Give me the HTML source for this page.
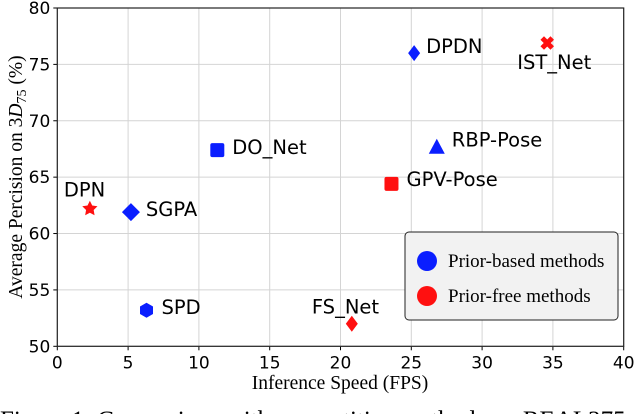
<!DOCTYPE html>
<html><head><meta charset="utf-8"><style>
html,body{margin:0;padding:0;background:#fff;width:640px;height:414px;overflow:hidden}
svg{display:block}
.tk{font-family:"DejaVu Sans",sans-serif;font-size:17px;fill:#000}
.lb{font-family:"DejaVu Sans",sans-serif;font-size:19.5px;fill:#000}
.sr{font-family:"Liberation Serif",serif;fill:#000}
</style></head><body>
<svg id="chart" width="640" height="414"></svg>
<script>
const names=["DPN","SGPA","SPD","DO_Net","DPDN","IST_Net","RBP-Pose","GPV-Pose","FS_Net"];
const speeds=[2.3,5.2,6.3,11.3,25.2,34.6,26.8,23.6,20.8];
const aps=[62.2,61.9,53.2,67.4,76.0,76.9,67.7,64.4,52.0];
const groups=["free","based","based","based","based","free","based","free","free"];
const markers=["star","diamond","hex","square","thin","x","tri","square","thin"];
const xTicks=[0,5,10,15,20,25,30,35,40];
const yTicks=[50,55,60,65,70,75,80];
const labelOff=[[-26,-18],[15,-2],[15,-2],[15,-2],[12,-6],[-30,20],[15,-6],[15,-4],[-40,-16]];
const X0=57.3,X1=623.7,Y0=346.3,Y1=8;
const sx=v=>X0+(v-0)/40*(X1-X0);
const sy=v=>Y0-(v-50)/30*(Y0-Y1);
const svg=document.getElementById('chart');const NS="http://www.w3.org/2000/svg";
function mk(t,a,p){const e=document.createElementNS(NS,t);for(const k in a)e.setAttribute(k,a[k]);(p||svg).appendChild(e);return e;}
xTicks.forEach(v=>{const g=mk('line',{x1:sx(v),x2:sx(v),y1:Y1,y2:Y0,stroke:'#d4d4d4','stroke-width':1});


mk('line',{x1:sx(v),x2:sx(v),y1:Y0,y2:Y0+4,stroke:'#000'});
const t=mk('text',{x:sx(v),y:Y0+22,'text-anchor':'middle',class:'tk'});t.textContent=v;

});
yTicks.forEach(v=>{const g=mk('line',{x1:X0,x2:X1,y1:sy(v),y2:sy(v),stroke:'#d4d4d4','stroke-width':1});


mk('line',{x1:X0-4,x2:X0,y1:sy(v),y2:sy(v),stroke:'#000'});
const t=mk('text',{x:X0-7,y:sy(v)+6,'text-anchor':'end',class:'tk'});t.textContent=v;

});
const fr=mk('rect',{x:X0,y:Y1,width:X1-X0,height:Y0-Y1,fill:'none',stroke:'#222','stroke-width':1.2});


function marker(type,x,y,c){let e;
if(type==='square')e=mk('rect',{x:x-7,y:y-7,width:14,height:14,rx:2,fill:c});
else if(type==='diamond')e=mk('polygon',{points:`${x},${y-9} ${x+9},${y} ${x},${y+9} ${x-9},${y}`,fill:c});
else if(type==='thin')e=mk('polygon',{points:`${x},${y-8} ${x+6},${y} ${x},${y+8} ${x-6},${y}`,fill:c});
else if(type==='tri')e=mk('polygon',{points:`${x},${y-8} ${x+8},${y+7} ${x-8},${y+7}`,fill:c});
else if(type==='hex'){let p=[];for(let i=0;i<6;i++){const a=Math.PI/3*i+Math.PI/6;p.push((x+7.5*Math.cos(a))+','+(y+7.5*Math.sin(a)));}e=mk('polygon',{points:p.join(' '),fill:c});}
else if(type==='star'){let p=[];for(let i=0;i<10;i++){const r=i%2?4:8,a=Math.PI/5*i-Math.PI/2;p.push((x+r*Math.cos(a))+','+(y+r*Math.sin(a)));}e=mk('polygon',{points:p.join(' '),fill:c});}
else {e=mk('path',{d:`M${x-5},${y-5}L${x+5},${y+5}M${x+5},${y-5}L${x-5},${y+5}`,stroke:c,'stroke-width':5});}
return e;}
names.forEach((n,i)=>{const x=sx(speeds[i]),y=sy(aps[i]);const c=groups[i]==='based'?'#0a1eff':'#ff1010';
const m=marker(markers[i],x,y,c);


const t=mk('text',{x:x+labelOff[i][0],y:y+labelOff[i][1]+6,class:'lb'});t.textContent=n;

});
const xt=mk('text',{x:340,y:389,'text-anchor':'middle',class:'sr','font-size':'19.5'});xt.textContent='Inference Speed (FPS)';


const yt=mk('text',{transform:'translate(22,177) rotate(-90)','text-anchor':'middle',class:'sr','font-size':'19.5'});
yt.innerHTML='Average Percision on 3<tspan font-style="italic">D</tspan><tspan font-size="14" dy="4">75</tspan><tspan dy="-4"> (%)</tspan>';


const lg=mk('g',{});

mk('rect',{x:405,y:232,width:213,height:88,rx:4,fill:'#f2f2f2',stroke:'#222','stroke-width':1},lg);
const leg=[["Prior-based methods",'#0a1eff',261],["Prior-free methods",'#ff1010',296]];
leg.forEach(l=>{const c=mk('circle',{cx:427,cy:l[2],r:10,fill:l[1]},lg);


const t=mk('text',{x:448,y:l[2]+6,class:'sr','font-size':'19'},lg);t.textContent=l[0];

});
const cap=mk('text',{x:0,y:428,class:'sr','font-size':'25'});cap.textContent='Figure 1:  Comparison with competitive methods on REAL275';


</script>
</body></html>
